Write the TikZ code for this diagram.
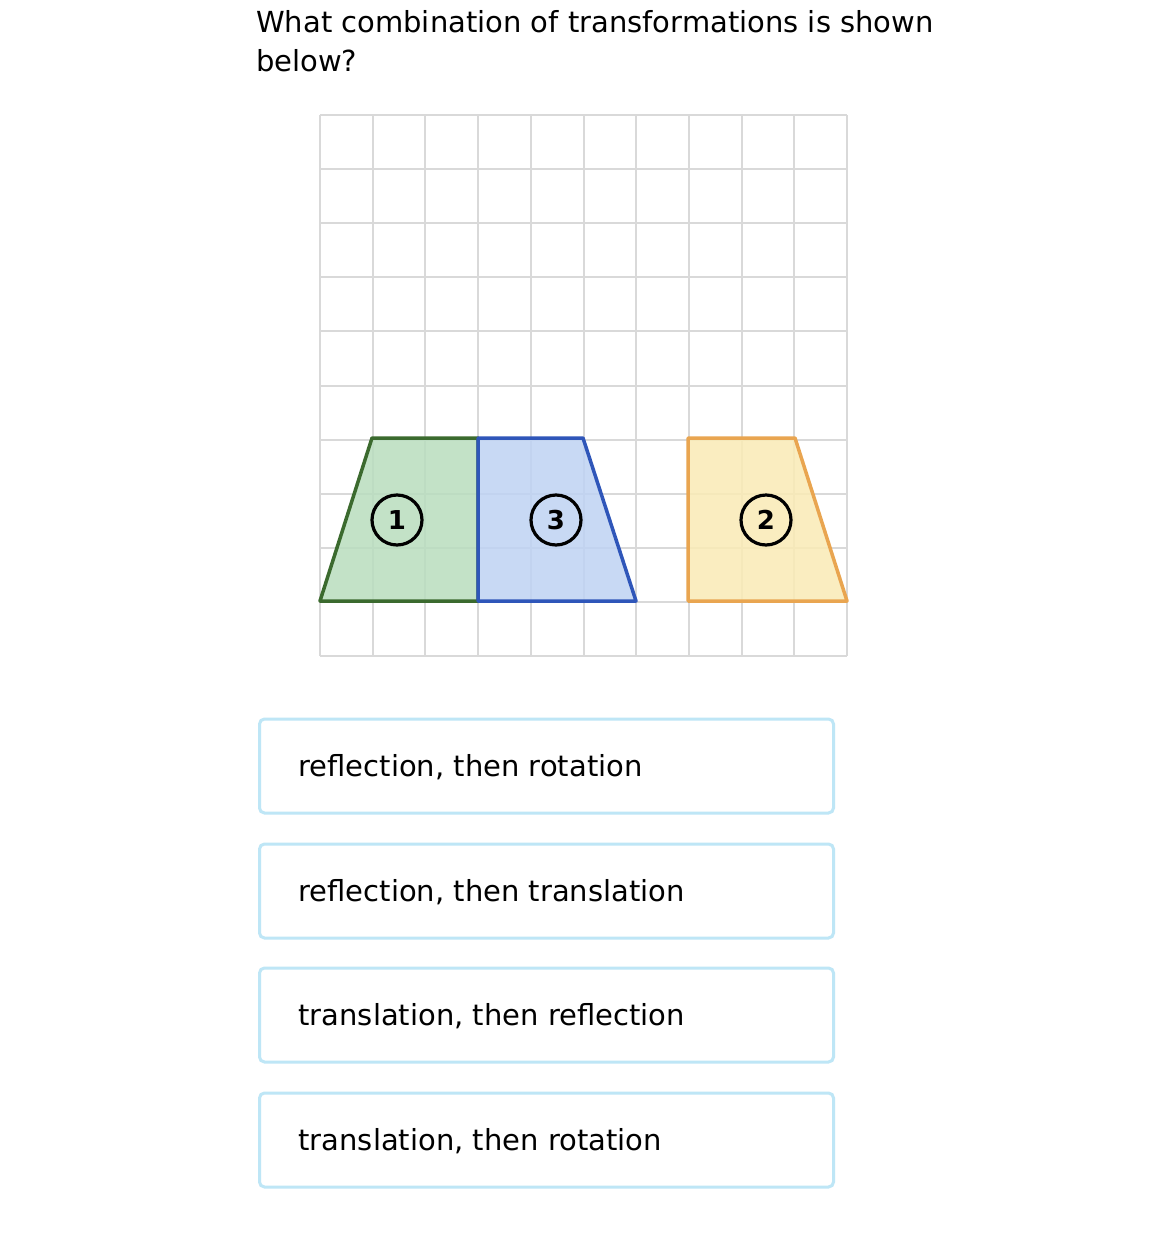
\documentclass[tikz,border=0pt]{standalone}
\usepackage{fontspec}
\setmainfont{DejaVu Sans}
\usetikzlibrary{positioning}
\definecolor{gridgray}{HTML}{D9D9D9}
\definecolor{greenline}{HTML}{3B6A2E}
\definecolor{greenfill}{HTML}{B9DDBE}
\definecolor{blueline}{HTML}{2F56B9}
\definecolor{bluefill}{HTML}{BFD3F3}
\definecolor{yellowline}{HTML}{E9A550}
\definecolor{yellowfill}{HTML}{FAEBB5}
\definecolor{boxline}{HTML}{BEE6F6}
\tikzset{
    label circle/.style={circle, draw=black, line width=3.2pt, minimum size=50pt, inner sep=0pt, font=\fontsize{26}{26}\selectfont\bfseries},
    answer box/.style={draw=boxline, line width=3pt, rounded corners=5pt, minimum width=574pt, minimum height=94pt, inner sep=0pt},
    answer text/.style={anchor=west, font=\fontsize{29}{34}\selectfont}
}
\begin{document}
\begin{tikzpicture}[x=1pt, y=-1pt]
    \useasboundingbox[fill=white] (0,0) rectangle (1173,1242);

    % question
    \node[anchor=base west, inner sep=0pt, font=\fontsize{29}{34}\selectfont] (q1) at (256,32) {What combination of transformations is shown};
    \node[anchor=base west, inner sep=0pt, font=\fontsize{29}{34}\selectfont] (q2) at (256,71) {below?};

    % grid
    \foreach \i in {0,...,10} {
        \draw[gridgray, line width=2pt] ({320+52.7*\i},115) -- ({320+52.7*\i},656);
        \draw[gridgray, line width=2pt] (320,{115+54.1*\i}) -- (847,{115+54.1*\i});
    }

    % figures
    \draw[greenline, line width=3.5pt, fill=greenfill, fill opacity=0.85, line join=round]
        (320,601) -- (372,438) -- (478,438) -- (478,601) -- cycle;
    \draw[blueline, line width=3.5pt, fill=bluefill, fill opacity=0.85, line join=round]
        (478,438) -- (583,438) -- (636,601) -- (478,601) -- cycle;
    \draw[yellowline, line width=3.5pt, fill=yellowfill, fill opacity=0.85, line join=round]
        (688,438) -- (795,438) -- (847,601) -- (688,601) -- cycle;

    \node[label circle] (one) at (397,520) {1};
    \node[label circle] (three) at (556,520) {3};
    \node[label circle] (two) at (766,520) {2};

    % answers
    \foreach \y/\t [count=\n] in {766/{reflection, then rotation},
                                  891/{reflection, then translation},
                                  1015/{translation, then reflection},
                                  1140/{translation, then rotation}} {
        \node[answer box] (box\n) at (546.5,\y) {};
        \node[answer text] (ans\n) at (295,\y+1) {\t};
    }
\end{tikzpicture}
\end{document}
